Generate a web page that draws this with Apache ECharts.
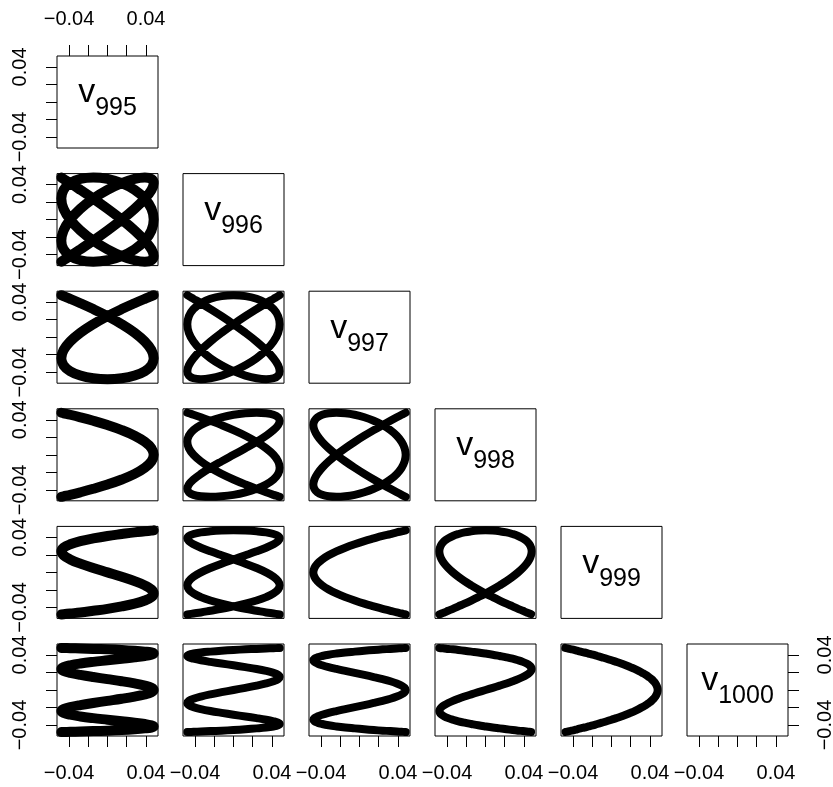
<!DOCTYPE html>
<html>
<head>
<meta charset="utf-8">
<script src="https://cdn.jsdelivr.net/npm/echarts@6/dist/echarts.min.js"></script>
<style>
html, body { margin: 0; padding: 0; background: #fff; }
#main { width: 833px; height: 787px; }
</style>
</head>
<body>
<div id="main"></div>
<script>
// diagonal labels (subscripts of v)
var varNames = ['995', '996', '997', '998', '999', '1000'];
// axis ticks and the ones that get a label
var tickValues = [-0.04, -0.02, 0, 0.02, 0.04];
var labelValues = [-0.04, 0.04];

var v995 = [-0.0480, -0.0457, -0.0388, -0.0282, -0.0148, 0, 0.0148, 0.0282, 0.0388, 0.0457,
    0.0480, 0.0457, 0.0388, 0.0282, 0.0148, 0, -0.0148, -0.0282, -0.0388, -0.0457,
    -0.0480, -0.0457, -0.0388, -0.0282, -0.0148, 0, 0.0148, 0.0282, 0.0388, 0.0457,
    0.0480, 0.0457, 0.0388, 0.0282, 0.0148, 0, -0.0148, -0.0282, -0.0388, -0.0457,
    -0.0480, -0.0457, -0.0388, -0.0282, -0.0148, 0, 0.0148, 0.0282, 0.0388, 0.0457,
    0.0480, 0.0457, 0.0388, 0.0282, 0.0148, 0, -0.0148, -0.0282, -0.0388, -0.0457,
    -0.0480];
var v996 = [0.0480, 0.0464, 0.0416, 0.0339, 0.0240, 0.0124, 0, -0.0124, -0.0240, -0.0339,
    -0.0416, -0.0464, -0.0480, -0.0464, -0.0416, -0.0339, -0.0240, -0.0124, 0, 0.0124,
    0.0240, 0.0339, 0.0416, 0.0464, 0.0480, 0.0464, 0.0416, 0.0339, 0.0240, 0.0124,
    0, -0.0124, -0.0240, -0.0339, -0.0416, -0.0464, -0.0480, -0.0464, -0.0416, -0.0339,
    -0.0240, -0.0124, 0, 0.0124, 0.0240, 0.0339, 0.0416, 0.0464, 0.0480, 0.0464,
    0.0416, 0.0339, 0.0240, 0.0124, 0, -0.0124, -0.0240, -0.0339, -0.0416, -0.0464,
    -0.0480];
var v997 = [0.0480, 0.0469, 0.0438, 0.0388, 0.0321, 0.0240, 0.0148, 0.0050, -0.0050, -0.0148,
    -0.0240, -0.0321, -0.0388, -0.0438, -0.0469, -0.0480, -0.0469, -0.0438, -0.0388, -0.0321,
    -0.0240, -0.0148, -0.0050, 0.0050, 0.0148, 0.0240, 0.0321, 0.0388, 0.0438, 0.0469,
    0.0480, 0.0469, 0.0438, 0.0388, 0.0321, 0.0240, 0.0148, 0.0050, -0.0050, -0.0148,
    -0.0240, -0.0321, -0.0388, -0.0438, -0.0469, -0.0480, -0.0469, -0.0438, -0.0388, -0.0321,
    -0.0240, -0.0148, -0.0050, 0.0050, 0.0148, 0.0240, 0.0321, 0.0388, 0.0438, 0.0469,
    0.0480];
var v998 = [-0.0480, -0.0474, -0.0457, -0.0428, -0.0388, -0.0339, -0.0282, -0.0218, -0.0148, -0.0075,
    0, 0.0075, 0.0148, 0.0218, 0.0282, 0.0339, 0.0388, 0.0428, 0.0457, 0.0474,
    0.0480, 0.0474, 0.0457, 0.0428, 0.0388, 0.0339, 0.0282, 0.0218, 0.0148, 0.0075,
    0, -0.0075, -0.0148, -0.0218, -0.0282, -0.0339, -0.0388, -0.0428, -0.0457, -0.0474,
    -0.0480, -0.0474, -0.0457, -0.0428, -0.0388, -0.0339, -0.0282, -0.0218, -0.0148, -0.0075,
    0, 0.0075, 0.0148, 0.0218, 0.0282, 0.0339, 0.0388, 0.0428, 0.0457, 0.0474,
    0.0480];
var v999 = [-0.0480, -0.0477, -0.0469, -0.0457, -0.0438, -0.0416, -0.0388, -0.0357, -0.0321, -0.0282,
    -0.0240, -0.0195, -0.0148, -0.0100, -0.0050, 0, 0.0050, 0.0100, 0.0148, 0.0195,
    0.0240, 0.0282, 0.0321, 0.0357, 0.0388, 0.0416, 0.0438, 0.0457, 0.0469, 0.0477,
    0.0480, 0.0477, 0.0469, 0.0457, 0.0438, 0.0416, 0.0388, 0.0357, 0.0321, 0.0282,
    0.0240, 0.0195, 0.0148, 0.0100, 0.0050, 0, -0.0050, -0.0100, -0.0148, -0.0195,
    -0.0240, -0.0282, -0.0321, -0.0357, -0.0388, -0.0416, -0.0438, -0.0457, -0.0469, -0.0477,
    -0.0480];
var v1000 = [0.0480, 0.0479, 0.0477, 0.0474, 0.0469, 0.0464, 0.0457, 0.0448, 0.0438, 0.0428,
    0.0416, 0.0403, 0.0388, 0.0373, 0.0357, 0.0339, 0.0321, 0.0302, 0.0282, 0.0261,
    0.0240, 0.0218, 0.0195, 0.0172, 0.0148, 0.0124, 0.0100, 0.0075, 0.0050, 0.0025,
    0, -0.0025, -0.0050, -0.0075, -0.0100, -0.0124, -0.0148, -0.0172, -0.0195, -0.0218,
    -0.0240, -0.0261, -0.0282, -0.0302, -0.0321, -0.0339, -0.0357, -0.0373, -0.0388, -0.0403,
    -0.0416, -0.0428, -0.0438, -0.0448, -0.0457, -0.0464, -0.0469, -0.0474, -0.0477, -0.0479,
    -0.0480];

var vars = [v995, v996, v997, v998, v999, v1000];

// panel layout (pixels)
var colLeft = [57, 183, 309, 435, 561, 687];
var rowTop = [56, 173.6, 291.2, 408.8, 526.4, 644];
var cellW = 101, cellH = 92;
var lim = 0.0525;   // axis range, a bit wider than the data
var font = '"Liberation Sans", Arial, Helvetica, sans-serif';

var chart = echarts.init(document.getElementById('main'), null, {renderer: 'canvas'});

function fmtTick(v) {
    if (v < 0) return '\u2212' + Math.abs(v).toFixed(2);
    return v.toFixed(2);
}

function makeAxis(gi, pos, isY) {
    return {
        type: 'value',
        gridIndex: gi,
        min: -lim,
        max: lim,
        show: !!pos,
        position: pos || (isY ? 'left' : 'bottom'),
        splitLine: {show: false},
        axisLine: {show: false, onZero: false},
        axisTick: {
            show: true, inside: false, length: 11,
            lineStyle: {color: '#000', width: 1},
            customValues: tickValues
        },
        axisLabel: {
            show: true, customValues: labelValues, margin: 27,
            rotate: isY ? 90 : 0,
            color: '#000', fontSize: 20, fontFamily: font,
            formatter: fmtTick
        }
    };
}

var grids = [], xAxes = [], yAxes = [], series = [], graphics = [];
var n = vars.length;

for (var r = 0; r < n; r++) {
    for (var c = 0; c <= r; c++) {
        var gi = grids.length;
        grids.push({
            left: colLeft[c], top: rowTop[r], width: cellW, height: cellH,
            show: true, borderColor: '#000', borderWidth: 1,
            backgroundColor: 'transparent',
            containLabel: false, outerBoundsMode: 'none'
        });

        var xPos = null, yPos = null;
        if (r == n - 1) xPos = 'bottom';
        else if (r == 0) xPos = 'top';
        if (c == 0) yPos = 'left';
        else if (r == n - 1 && c == n - 1) yPos = 'right';
        xAxes.push(makeAxis(gi, xPos, false));
        yAxes.push(makeAxis(gi, yPos, true));

        if (r == c) {
            // variable name in the diagonal box
            graphics.push({
                type: 'text',
                x: colLeft[c] + cellW / 2,
                y: rowTop[r] + cellH / 2 + 2,
                style: {
                    text: '{v|v}{s|' + varNames[r] + '}',
                    align: 'center', verticalAlign: 'middle',
                    textAlign: 'center', textVerticalAlign: 'middle',
                    rich: {
                        v: {fontSize: 34, lineHeight: 34, fontFamily: font, fill: '#000', padding: [0, 0, 11, 0], verticalAlign: 'bottom'},
                        s: {fontSize: 25, lineHeight: 25, fontFamily: font, fill: '#000', verticalAlign: 'bottom'}
                    }
                }
            });
        } else {
            var xs = vars[c], ys = vars[r];
            var pts = xs.map(function (x, i) { return [x, ys[i]]; });
            series.push({
                type: 'line',
                xAxisIndex: gi,
                yAxisIndex: gi,
                data: pts,
                showSymbol: false,
                smooth: 0.4,
                silent: true,
                animation: false,
                // the v995 column is drawn as a wider band in the original
                lineStyle: {color: '#000', width: c == 0 ? 10 : 8, cap: 'round', join: 'round'}
            });
        }
    }
}

chart.setOption({
    animation: false,
    backgroundColor: '#fff',
    grid: grids,
    xAxis: xAxes,
    yAxis: yAxes,
    series: series,
    graphic: graphics
});
</script>
</body>
</html>
